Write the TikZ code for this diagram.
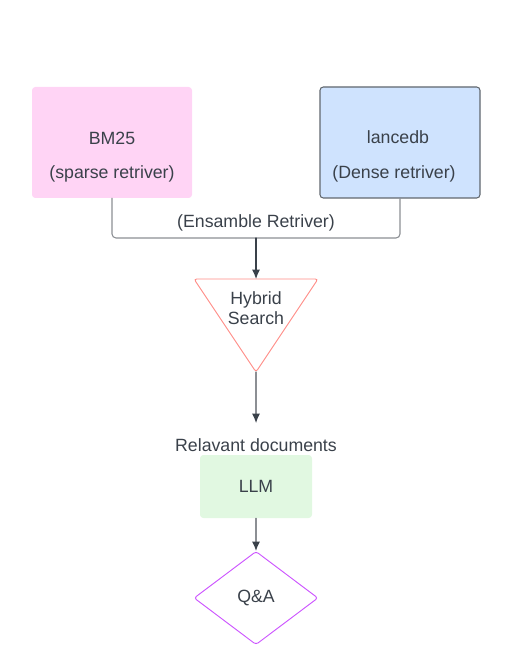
\documentclass[tikz,border=0pt]{standalone}
\usepackage{fontspec}
\setmainfont{Liberation Sans}
\usetikzlibrary{arrows.meta, shapes.geometric}

\definecolor{inkgray}{HTML}{3A414A}
\definecolor{linegray}{HTML}{8C8F94}
\definecolor{pinkfill}{HTML}{FFD4F5}
\definecolor{bluefill}{HTML}{CFE3FE}
\definecolor{greenfill}{HTML}{E1F8E1}
\definecolor{redline}{HTML}{FF8A84}
\definecolor{purpleline}{HTML}{CC55FF}

\tikzset{%
    txt/.style = {text = inkgray, font = \fontsize{13.3}{17}\selectfont, align = center},
    box/.style = {txt, rounded corners = 2.5pt, inner sep = 0pt},
    conn/.style = {draw = linegray, line width = 0.8pt},
    arr/.style = {conn, -{Latex[length = 7pt, width = 6pt, color = inkgray]}}
}

\begin{document}
\begin{tikzpicture}[%
        x = 0.75pt,
        y = -0.75pt,
        line cap = round
    ]

        \useasboundingbox (0, 0) rectangle (511, 670);

        % Positions for the points in the drawing.
        \coordinate (merge) at (256, 238);
        \coordinate (hstop) at (256, 279);
        \coordinate (hsapex) at (256, 372);
        \coordinate (docsin) at (256, 423);

        % The two retrievers.
        \node[box, fill = pinkfill, minimum width = 120pt, minimum height = 83.25pt]
            (bm25) at (112, 142.5) {};
        \node[txt] (bm25txt) at (112, 157) {BM25\\[9pt](sparse retriver)};
        \node[box, fill = bluefill, draw = inkgray!80, line width = 0.8pt,
            minimum width = 120pt, minimum height = 83.25pt]
            (lance) at (400, 142.5) {};
        \node[txt] (lancetxt) at (394, 156.5) {\hspace*{6pt}lancedb\\[9pt](Dense retriver)};

        % Join them into the ensemble.
        \draw[conn, rounded corners = 3pt] (bm25.south) |- (merge) -| (lance.south);
        \node[txt] (ens) at (256, 223) {(Ensamble Retriver)};
        \draw[arr, draw = inkgray] (merge) to (hstop);

        % Hybrid search triangle.
        \draw[redline, line width = 0.7pt, rounded corners = 2pt]
            (194, 279) -- (318, 279) -- (hsapex) -- cycle;
        \node[txt, text width = 80pt] (hs) at (256, 308) {Hybrid\\[-2pt]Search};
        \draw[arr] (hsapex) to (docsin);

        % Retrieved documents and the LLM.
        \node[txt] (docs) at (256, 445) {Relavant documents};
        \node[box, fill = greenfill, minimum width = 84pt, minimum height = 47.25pt]
            (llm) at (256, 486.5) {LLM};

        % And lastly, the answer.
        \node[txt, diamond, draw = purpleline, line width = 0.7pt, inner sep = 0pt,
            aspect = 1.33, minimum width = 93pt, minimum height = 70pt,
            rounded corners = 2pt]
            (qa) at (256, 598) {\raisebox{-2pt}{Q\&A}};
        \draw[arr] (llm.south) to (qa.north);
    \end{tikzpicture}
\end{document}
